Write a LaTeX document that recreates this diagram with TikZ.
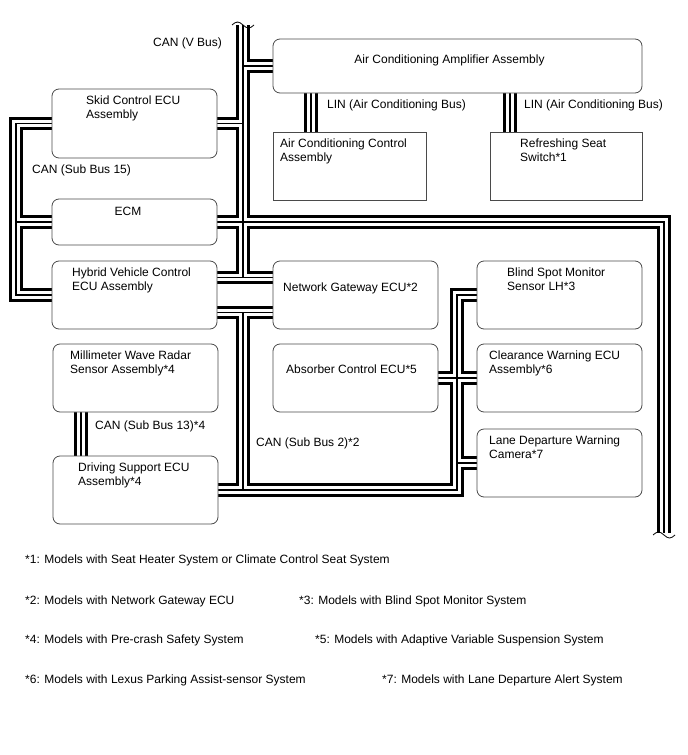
\documentclass[tikz,border=0pt]{standalone}
\usepackage{fontspec}
\setmainfont{Liberation Sans}
\usetikzlibrary{backgrounds}
\definecolor{boxgray}{HTML}{4A4A4A}

% all bus centre lines, drawn three times (black, white, core)
\newcommand{\canlines}{%
  (vtop) -- (vtop |- hvtop)
  (amp.west) -- (amp.west -| vtop)
  (skid.east) -- (skid.east -| vtop)
  (ecm.east) -- (ecm.east -| rbot) -- (rbot)
  (hvtop) -- (gwtop)
  (hvbot) -- (gwbot)
  (hvbot -| vtop) -- (dsecu.east -| vtop)
  (dsecu.east) -- (dsecu.east -| sbtwo) -- (bsm.west -| sbtwo) -- (bsm.west)
  (absorber.east) -- (cwecu.west)
  (ldw.west) -- (ldw.west -| sbtwo)
  (skid.west) -- (skid.west -| sbfift) -- (hv.west -| sbfift) -- (hv.west)
  (ecm.west) -- (ecm.west -| sbfift)
  (mwr.south -| sbthirt) -- (dsecu.north -| sbthirt)
  (amp.south -| linA) -- (acctrl.north -| linA)
  (amp.south -| linB) -- (seatsw.north -| linB)}

\begin{document}
\begin{tikzpicture}[x=1pt,y=-1pt,
  ecu/.style={draw=boxgray,line width=0.8pt,rounded corners=7pt,fill=white,inner sep=0pt},
  unit/.style={draw=boxgray,line width=0.8pt,fill=white,inner sep=0pt},
  txt/.style={inner sep=0pt,anchor=north west,align=left,font=\fontsize{12}{14}\selectfont},
  brk/.style={line width=0.8pt}]
  \useasboundingbox (0,0) rectangle (688,755);

  % boxes
  \node[ecu,minimum width=369pt,minimum height=54pt] (amp) at (457.5,66) {};
  \node[unit,minimum width=153pt,minimum height=68pt] (acctrl) at (349.5,166) {};
  \node[unit,minimum width=152pt,minimum height=68pt] (seatsw) at (566,166) {};
  \node[ecu,minimum width=165pt,minimum height=69pt] (skid) at (134.5,123.5) {};
  \node[ecu,minimum width=165pt,minimum height=46pt] (ecm) at (134.5,222) {};
  \node[ecu,minimum width=165pt,minimum height=68pt] (hv) at (134.5,295) {};
  \node[ecu,minimum width=165pt,minimum height=68pt] (gw) at (355.5,295) {};
  \node[ecu,minimum width=165pt,minimum height=68pt] (bsm) at (559.5,295) {};
  \node[ecu,minimum width=165pt,minimum height=68pt] (mwr) at (135.5,378) {};
  \node[ecu,minimum width=165pt,minimum height=68pt] (dsecu) at (135.5,490) {};
  \node[ecu,minimum width=165pt,minimum height=68pt] (absorber) at (355.5,378) {};
  \node[ecu,minimum width=165pt,minimum height=68pt] (cwecu) at (559.5,378) {};
  \node[ecu,minimum width=165pt,minimum height=68pt] (ldw) at (559.5,463) {};

  % bus points
  \coordinate (vtop) at (243,25);
  \coordinate (rbot) at (664,533);
  \coordinate (hvtop) at ([yshift=17.5pt]hv.east);
  \coordinate (gwtop) at ([yshift=17.5pt]gw.west);
  \coordinate (hvbot) at ([yshift=-17.5pt]hv.east);
  \coordinate (gwbot) at ([yshift=-17.5pt]gw.west);
  \coordinate (sbtwo) at (457,0);
  \coordinate (sbfift) at (16,0);
  \coordinate (sbthirt) at (81,0);
  \coordinate (linA) at (311,0);
  \coordinate (linB) at (510,0);

  \begin{scope}[on background layer]
    \draw[line width=13.5pt] \canlines;
    \draw[line width=7.5pt,white] \canlines;
    \draw[line width=1.5pt] \canlines;
  \end{scope}

  % break marks
  \draw[brk] ([xshift=-11pt]vtop) sin ++(5.5,-3) cos ++(5.5,3) sin ++(5.5,3) cos ++(5.5,-3);
  \draw[brk] ([xshift=-11pt,yshift=-2pt]rbot) sin ++(5.5,-3) cos ++(5.5,3) sin ++(5.5,3) cos ++(5.5,-3);

  % box texts
  \node[txt,anchor=north] (amptxt) at (449.5,54.5) {Air Conditioning Amplifier Assembly};
  \node[txt] (acctrltxt) at (280,138.5) {Air Conditioning Control\\Assembly};
  \node[txt] (seatswtxt) at (520,138.5) {Refreshing Seat\\Switch*1};
  \node[txt] (skidtxt) at (86,95.5) {Skid Control ECU\\Assembly};
  \node[txt,anchor=north] (ecmtxt) at (128,206.5) {ECM};
  \node[txt] (hvtxt) at (72,267.5) {Hybrid Vehicle Control\\ECU Assembly};
  \node[txt] (gwtxt) at (283,282.5) {Network Gateway ECU*2};
  \node[txt] (bsmtxt) at (507,267.5) {Blind Spot Monitor\\Sensor LH*3};
  \node[txt] (mwrtxt) at (70,350.5) {Millimeter Wave Radar\\Sensor Assembly*4};
  \node[txt] (dsecutxt) at (78,462.5) {Driving Support ECU\\Assembly*4};
  \node[txt] (absorbertxt) at (286,364.5) {Absorber Control ECU*5};
  \node[txt] (cwecutxt) at (489,350.5) {Clearance Warning ECU\\Assembly*6};
  \node[txt] (ldwtxt) at (489,435.5) {Lane Departure Warning\\Camera*7};

  % bus names
  \node[txt] (vbus) at (153,37.5) {CAN (V Bus)};
  \node[txt] (sub15) at (32,164.5) {CAN (Sub Bus 15)};
  \node[txt] (linAtxt) at (327,99.5) {LIN (Air Conditioning Bus)};
  \node[txt] (linBtxt) at (524,99.5) {LIN (Air Conditioning Bus)};
  \node[txt] (sub13) at (95,420.5) {CAN (Sub Bus 13)*4};
  \node[txt] (sub2) at (256,437.5) {CAN (Sub Bus 2)*2};

  % notes
  \node[txt] (note1) at (25,554.5) {*1: Models with Seat Heater System or Climate Control Seat System};
  \node[txt] (note2) at (25,595.5) {*2: Models with Network Gateway ECU};
  \node[txt] (note3) at (299,595.5) {*3: Models with Blind Spot Monitor System};
  \node[txt] (note4) at (25,634.5) {*4: Models with Pre-crash Safety System};
  \node[txt] (note5) at (315,634.5) {*5: Models with Adaptive Variable Suspension System};
  \node[txt] (note6) at (25,674.5) {*6: Models with Lexus Parking Assist-sensor System};
  \node[txt] (note7) at (382,674.5) {*7: Models with Lane Departure Alert System};
\end{tikzpicture}
\end{document}
